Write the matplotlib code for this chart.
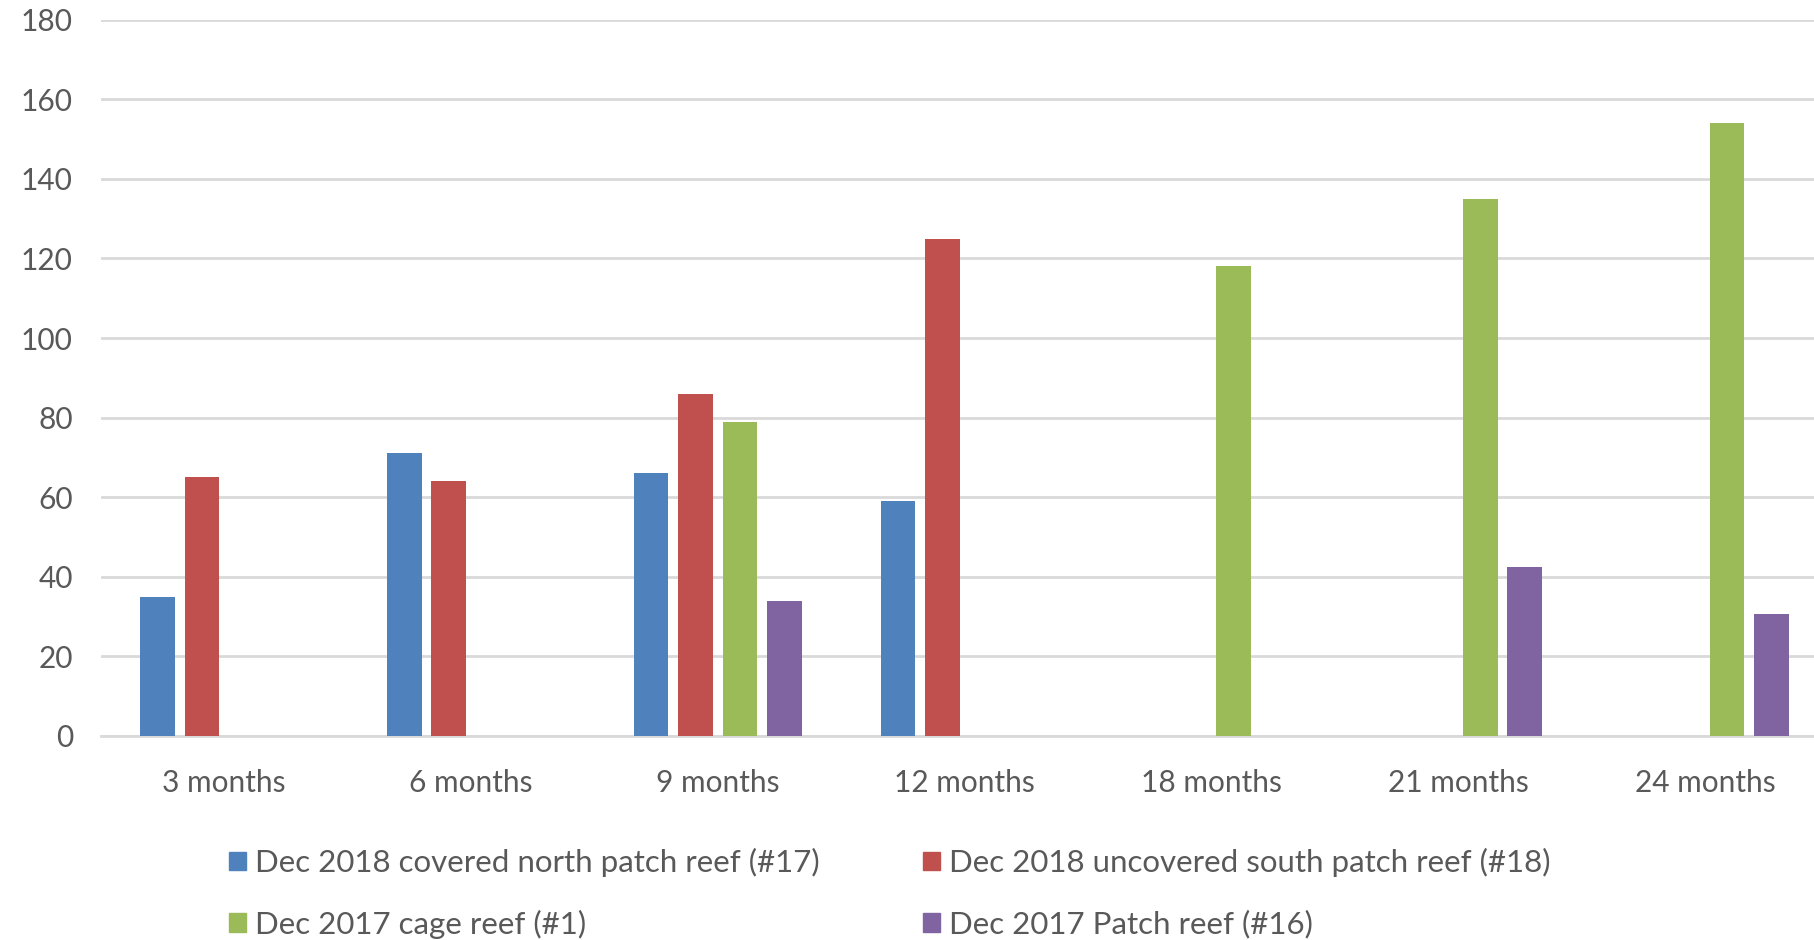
import matplotlib.pyplot as plt
from matplotlib.patches import Patch
import numpy as np

categories = ['3 months', '6 months', '9 months', '12 months',
              '18 months', '21 months', '24 months']
series_names = ['Dec 2018 covered north patch reef (#17)',
                'Dec 2018 uncovered south patch reef (#18)',
                'Dec 2017 cage reef (#1)',
                'Dec 2017 Patch reef (#16)']
north_17 = [35, 71, 66, 59, 0, 0, 0]
south_18 = [65, 64, 86, 125, 0, 0, 0]
cage_1 = [0, 0, 79, 0, 118, 135, 154]
patch_16 = [0, 0, 34, 0, 0, 42.5, 30.5]
colors = ['#4F81BD', '#C0504D', '#9BBB59', '#8064A2']
yticks = [0, 20, 40, 60, 80, 100, 120, 140, 160, 180]

fig = plt.figure(figsize=(18.14, 9.40), dpi=100)
ax = fig.add_axes([0.0555, 0.2172, 0.9445, 0.979 - 0.2172])

x = np.arange(len(categories))
data = [north_17, south_18, cage_1, patch_16]
offsets = [-1.5, -0.5, 0.5, 1.5]
step = 0.18
for vals, off, c in zip(data, offsets, colors):
    ax.bar(x + off * step, vals, width=0.14, color=c, zorder=3)

ax.set_xlim(-0.5, 6.442)
ax.set_ylim(0, 180)
ax.set_yticks(yticks)
ax.set_xticks(x)
ax.set_xticklabels(categories)
ax.grid(axis='y', color='#D9D9D9', linewidth=2, zorder=0)
for s in ['top', 'right', 'left']:
    ax.spines[s].set_visible(False)
ax.spines['bottom'].set_color('#D9D9D9')
ax.spines['bottom'].set_linewidth(2)
ax.tick_params(length=0, labelsize=21.5, labelcolor='#595959')
ax.tick_params(axis='x', pad=24)
ax.tick_params(axis='y', pad=20)
for lab in ax.get_xticklabels() + ax.get_yticklabels():
    lab.set_family(['Lato', 'DejaVu Sans'])

# legend: column-first order so rows read blue/red, green/purple
order = [0, 2, 1, 3]
handles = [Patch(color=colors[i]) for i in order]
labels = [series_names[i] for i in order]
fig.legend(handles, labels, ncol=2, loc='upper left',
           bbox_to_anchor=(0.126, 0.098), frameon=False,
           prop={'family': ['Lato', 'DejaVu Sans'], 'size': 22.5},
           labelcolor='#595959', handlelength=0.55, handleheight=0.55,
           handletextpad=0.3, columnspacing=3.3, labelspacing=1.05,
           borderpad=0, borderaxespad=0)

fig.savefig('out.png', dpi=100)
